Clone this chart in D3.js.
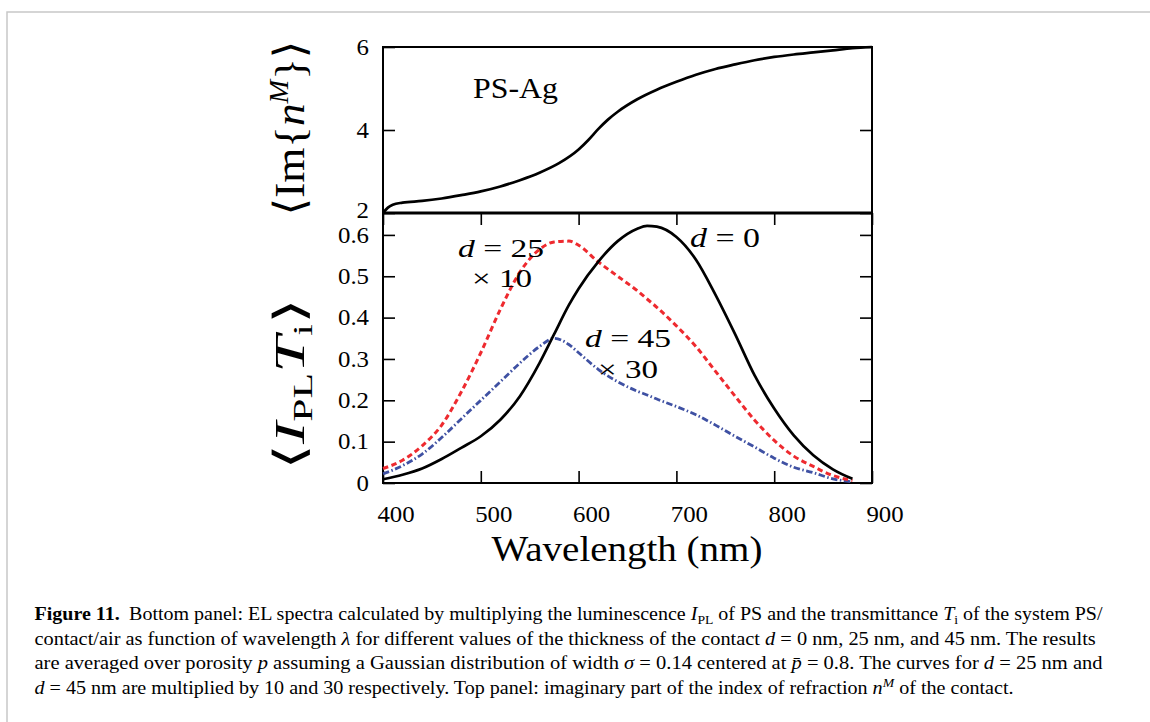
<!DOCTYPE html>
<html><head><meta charset="utf-8">
<script src="https://cdn.jsdelivr.net/npm/d3@7/dist/d3.min.js"></script>
<style>body{margin:0;background:#fff} svg{display:block}</style>
</head><body>
<svg id="c" width="1150" height="722"></svg>
<script>
// ---------- data ----------
const wavelengthTop = [400,405,410,420,440,460,480,500,520,540,560,580,600,610,620,630,640,660,680,700,720,740,760,780,800,820,840,860,880,900];
const imIndex      = [2.0,2.13,2.2,2.25,2.29,2.35,2.43,2.52,2.64,2.79,2.97,3.2,3.53,3.76,4.02,4.25,4.44,4.74,4.97,5.16,5.33,5.47,5.58,5.68,5.76,5.82,5.87,5.92,5.97,6.0];

const wavelength = [400,420,440,460,480,500,520,540,560,575,590,600,620,640,660,670,680,700,720,740,760,780,800,820,840,860,880];
const spectrumD0    = [0.009,0.02,0.035,0.058,0.085,0.113,0.153,0.21,0.29,0.36,0.43,0.47,0.535,0.585,0.615,0.622,0.62,0.595,0.54,0.455,0.36,0.26,0.18,0.115,0.067,0.033,0.01];
const spectrumD25x10 = [0.035,0.055,0.09,0.14,0.22,0.315,0.42,0.51,0.565,0.583,0.585,0.575,0.535,0.5,0.465,0.445,0.425,0.38,0.33,0.27,0.21,0.152,0.103,0.065,0.04,0.018,0.006];
const spectrumD45x30 = [0.022,0.042,0.07,0.11,0.155,0.2,0.245,0.29,0.33,0.35,0.335,0.315,0.275,0.245,0.222,0.213,0.203,0.185,0.165,0.14,0.113,0.087,0.06,0.038,0.025,0.01,0.003];

const xTickValues = [400,500,600,700,800,900];
const topTickValues = [2,4,6];
const bottomTickValues = [0,0.1,0.2,0.3,0.4,0.5,0.6];

// ---------- setup ----------
const F = "'Liberation Serif','DejaVu Serif',serif";
const svg = d3.select('#c');
const L = 383, R = 872, T1 = 47, MID = 213, B2 = 483;
const x = d3.scaleLinear().domain([400,900]).range([L,R]);
const yTop = d3.scaleLinear().domain([2,6]).range([MID,T1]);
const yBot = d3.scaleLinear().domain([0,0.653]).range([B2,MID]);

// outer page frame
svg.append('path').attr('d','M7,722 L7,12 L1150,12').attr('fill','none').attr('stroke','#c8c8c8').attr('stroke-width',1.5);

// ---------- text helper ----------
function label(x0, y0, parts, size, width, opts={}){
  const g = svg.append('g').attr('transform',`translate(${x0},${y0})`+(opts.rotate?` rotate(${opts.rotate})`:''));
  const t = g.append('text').attr('font-family',opts.family||F).attr('font-size',size).attr('text-anchor',opts.anchor||'start').attr('fill','#000');
  if(opts.dy) t.attr('dy',opts.dy);
  parts.forEach(p=>{
    const s = t.append('tspan').text(p.t);
    if(p.i) s.attr('font-style','italic');
    if(p.b) s.attr('font-weight','bold');
    if(p.s) s.attr('font-size',p.s);
    if(p.dy) s.attr('dy',p.dy);
    if(p.dx) s.attr('dx',p.dx);
  });
  let sx = opts.sx || 1;
  if(width){
    const w = t.node().getBBox().width;
    if(w>0) sx = width/w;
  }
  if(sx!==1) t.attr('transform',`scale(${sx},1)`);
  return t;
}

function ticksOnly(g){
  g.select('.domain').remove();
  g.selectAll('.tick line').attr('stroke','#000').attr('stroke-width',1.6);
  g.selectAll('.tick text').remove();
}

// tick marks (inward on all sides)
svg.append('g').attr('transform',`translate(${L},0)`).call(d3.axisLeft(yTop).tickValues(topTickValues).tickSize(-12)).call(ticksOnly);
svg.append('g').attr('transform',`translate(${R},0)`).call(d3.axisRight(yTop).tickValues(topTickValues).tickSize(-12)).call(ticksOnly);
svg.append('g').attr('transform',`translate(${L},0)`).call(d3.axisLeft(yBot).tickValues(bottomTickValues).tickSize(-12)).call(ticksOnly);
svg.append('g').attr('transform',`translate(${R},0)`).call(d3.axisRight(yBot).tickValues(bottomTickValues).tickSize(-12)).call(ticksOnly);
svg.append('g').attr('transform',`translate(0,${B2})`).call(d3.axisBottom(x).tickValues(xTickValues).tickSize(-12)).call(ticksOnly);
svg.append('g').attr('transform',`translate(0,${MID})`).call(d3.axisTop(x).tickValues(xTickValues).tickSize(-12)).call(ticksOnly);

// tick labels
const TS = 23, TSX = 1.08;
topTickValues.forEach(v=>label(369, yTop(v) - (v===2?2.5:0), [{t:String(v)}], TS, null, {anchor:'end', dy:'0.34em', sx:TSX}));
bottomTickValues.forEach(v=>label(369, yBot(v), [{t: v===0?'0':v.toFixed(1)}], TS, null, {anchor:'end', dy:'0.34em', sx:TSX}));
xTickValues.forEach(v=>label(x(v)+13, 522, [{t:String(v)}], TS, null, {anchor:'middle', sx:TSX}));

// frames
svg.append('rect').attr('x',L).attr('y',T1).attr('width',R-L).attr('height',MID-T1).attr('fill','none').attr('stroke','#000').attr('stroke-width',2);
svg.append('rect').attr('x',L).attr('y',MID).attr('width',R-L).attr('height',B2-MID).attr('fill','none').attr('stroke','#000').attr('stroke-width',2);
svg.append('line').attr('x1',L).attr('x2',R).attr('y1',MID).attr('y2',MID).attr('stroke','#000').attr('stroke-width',3);

// curves
const lineTop = d3.line().x((d,i)=>x(wavelengthTop[i])).y(d=>yTop(d)).curve(d3.curveMonotoneX);
svg.append('path').attr('d',lineTop(imIndex)).attr('fill','none').attr('stroke','#000').attr('stroke-width',2.7);

const lineBot = d3.line().x((d,i)=>x(wavelength[i])).y(d=>yBot(d)).curve(d3.curveMonotoneX);
svg.append('path').attr('d',lineBot(spectrumD45x30)).attr('fill','none').attr('stroke','#3f51a3').attr('stroke-width',2.8).attr('stroke-dasharray','6.5,2.5,1.5,2.5');
svg.append('path').attr('d',lineBot(spectrumD25x10)).attr('fill','none').attr('stroke','#ee2a2f').attr('stroke-width',3).attr('stroke-dasharray','5.5,3.5');
svg.append('path').attr('d',lineBot(spectrumD0)).attr('fill','none').attr('stroke','#000').attr('stroke-width',2.7);

// annotations
label(473, 98, [{t:'PS-Ag'}], 29, 85);
label(458, 257, [{t:'d',i:1},{t:' = 25'}], 26, 86);
label(472, 287, [{t:'× 10'}], 26, 60);
label(690, 247, [{t:'d',i:1},{t:' = 0'}], 27, 70);
label(585, 347, [{t:'d',i:1},{t:' = 45'}], 26, 86);
label(598, 378, [{t:'× 30'}], 26, 60);

// axis titles
label(627, 561, [{t:'Wavelength (nm)'}], 35, 271, {anchor:'middle'});
label(304, 128, [{t:'⟨Im{'},{t:'n',i:1},{t:'M',i:1,s:27,dy:-16},{t:'}⟩',dy:16}], 43, 175, {anchor:'middle',rotate:-90});
label(304, 384, [{t:'⟨'},{t:'I',i:1},{t:'PL',s:27,dy:8},{t:'T',i:1,dy:-8},{t:'i',s:27,dy:8},{t:'⟩',dy:-8}], 43, 172, {anchor:'middle',rotate:-90});

// caption
const CS = 19, SUB = 13;
label(34.5, 620, [{t:'Figure 11.',b:1},{t:'Bottom panel: EL spectra calculated by multiplying the luminescence ',dx:9},{t:'I',i:1},{t:'PL',s:SUB,dy:4},{t:' of PS and the transmittance ',dy:-4},{t:'T',i:1},{t:'i',s:SUB,dy:4},{t:' of the system PS/',dy:-4}], CS, 1069);
label(34.5, 644.5, [{t:'contact/air as function of wavelength '},{t:'λ',i:1},{t:' for different values of the thickness of the contact '},{t:'d',i:1},{t:' = 0 nm, 25 nm, and 45 nm. The results'}], CS, 1062);
label(34.5, 669, [{t:'are averaged over porosity '},{t:'p',i:1},{t:' assuming a Gaussian distribution of width '},{t:'σ',i:1},{t:' = 0.14 centered at '},{t:'p̄',i:1},{t:' = 0.8. The curves for '},{t:'d',i:1},{t:' = 25 nm and'}], CS, 1069);
label(34.5, 693.5, [{t:'d',i:1},{t:' = 45 nm are multiplied by 10 and 30 respectively. Top panel: imaginary part of the index of refraction '},{t:'n',i:1},{t:'M',i:1,s:SUB,dy:-7},{t:' of the contact.',dy:7}], CS, 980);
</script>
</body></html>
